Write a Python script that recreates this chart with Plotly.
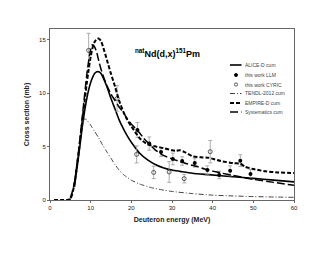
import plotly.graph_objects as go

# ---- data ----
alice_x = [6, 6.5, 7, 7.5, 8, 8.5, 9, 9.5, 10, 10.5, 11, 11.5, 12, 12.5, 13, 14, 15, 16, 17, 18, 19, 20, 22, 24, 26, 28, 30, 32, 35, 39, 45, 50, 55, 60]
alice_y = [1.2, 2.6, 4.0, 5.5, 7.0, 8.3, 9.4, 10.3, 11.0, 11.5, 11.85, 12.0, 12.0, 11.85, 11.5, 10.6, 9.5, 8.5, 7.5, 6.7, 6.0, 5.4, 4.4, 3.75, 3.3, 3.0, 2.8, 2.68, 2.5, 2.37, 2.18, 2.02, 1.86, 1.7]

tendl_x = [5, 5.5, 6, 6.5, 7, 7.5, 8, 8.5, 9, 10, 11, 12, 13, 14, 15, 16, 17, 18, 20, 22, 25, 28, 30, 35, 40, 45, 50, 55, 60]
tendl_y = [0.0, 0.6, 1.6, 3.0, 4.5, 6.0, 7.1, 7.6, 7.5, 7.0, 6.4, 5.8, 5.1, 4.5, 3.9, 3.3, 2.8, 2.4, 1.85, 1.5, 1.15, 0.92, 0.8, 0.6, 0.45, 0.38, 0.32, 0.28, 0.25]

empire_x = [1, 2, 3, 4, 5, 5.5, 6, 6.5, 7, 7.5, 8, 8.5, 9, 9.5, 10, 10.5, 11, 11.5, 12, 12.5, 13, 14, 15, 16, 17, 18, 19, 20, 22, 24, 26, 28, 30, 31, 32, 33, 35, 37, 39, 42, 45, 46.8, 48, 50, 53, 56, 60]
empire_y = [0, 0, 0, 0, 0.1, 0.6, 1.5, 2.8, 4.3, 5.9, 7.6, 9.2, 10.8, 12.2, 13.4, 14.3, 14.8, 15.05, 15.1, 14.9, 14.4, 13.1, 11.8, 10.6, 9.3, 8.3, 7.5, 6.9, 5.8, 5.2, 5.0, 4.85, 4.65, 4.6, 4.65, 4.5, 4.1, 4.0, 3.95, 3.65, 3.45, 3.4, 3.1, 2.9, 2.68, 2.58, 2.53]

syst_x = [5, 5.5, 6, 6.5, 7, 7.5, 8, 8.5, 9, 9.5, 10, 10.3, 10.7, 11, 11.5, 12, 12.5, 13, 14, 15, 16, 17, 18, 19, 20, 21, 22, 23, 24, 26, 28, 30, 32, 34, 36, 38, 40, 42, 45, 50, 55, 60]
syst_y = [0.2, 0.8, 1.6, 3.0, 4.5, 6.2, 8.0, 9.8, 11.6, 13.0, 14.1, 14.5, 14.5, 14.3, 13.8, 13.0, 12.3, 11.7, 10.7, 9.9, 9.3, 8.7, 8.2, 7.6, 7.1, 6.7, 6.3, 5.8, 5.4, 4.65, 4.15, 3.85, 3.6, 3.35, 3.15, 2.9, 2.7, 2.53, 2.3, 1.93, 1.65, 1.37]

llm_x = [21.5, 24.4, 27.3, 30.2, 32.5, 35.6, 38.7, 41.6, 44.3, 46.8, 49.3]
llm_y = [6.56, 5.28, 4.5, 3.84, 3.65, 3.47, 2.8, 2.35, 2.73, 3.68, 2.44]
llm_err = [0.7, 0.62, 0.42, 0.55, 0.4, 0.4, 0.4, 0.35, 0.47, 0.55, 0.4]

cyric_x = [9.5, 16.5, 21.3, 25.5, 29.3, 33.0, 39.4]
cyric_y = [14.0, 9.5, 4.27, 2.58, 2.62, 2.0, 4.52]
cyric_err = [1.6, 1.2, 0.8, 0.58, 0.97, 0.4, 1.05]

x_ticks = [0, 10, 20, 30, 40, 50, 60]
y_ticks = [0, 5, 10, 15]

legend_names = ["ALICE-D cum", "this work LLM", "this work CYRIC",
                "TENDL-2012 cum", "EMPIRE-D cum", "Systematics cum"]

FONT = "Liberation Sans"

# styles
alice_line = dict(color="black", width=1.6)
tendl_line = dict(color="#444444", width=1, dash="5px,2px,1px,2px")
empire_line = dict(color="black", width=2, dash="4px,2px")
syst_line = dict(color="black", width=1.5, dash="8px,3px")

fig = go.Figure()

fig.add_trace(go.Scatter(x=alice_x, y=alice_y, mode="lines", name=legend_names[0],
                         line=dict(**alice_line, shape="spline", smoothing=0.6)))
fig.add_trace(go.Scatter(x=llm_x, y=llm_y, mode="markers", name=legend_names[1],
                         marker=dict(symbol="circle", size=4, color="black"),
                         error_y=dict(type="data", array=llm_err, color="#9a9a9a", thickness=0.8, width=2)))
fig.add_trace(go.Scatter(x=cyric_x, y=cyric_y, mode="markers", name=legend_names[2],
                         marker=dict(symbol="circle-open", size=4, color="#333333", line=dict(width=0.8)),
                         error_y=dict(type="data", array=cyric_err, color="#9a9a9a", thickness=0.8, width=2)))
fig.add_trace(go.Scatter(x=tendl_x, y=tendl_y, mode="lines", name=legend_names[3],
                         line=dict(**tendl_line, shape="spline", smoothing=0.6)))
fig.add_trace(go.Scatter(x=empire_x, y=empire_y, mode="lines", name=legend_names[4],
                         line=dict(**empire_line, shape="spline", smoothing=0.6)))
fig.add_trace(go.Scatter(x=syst_x, y=syst_y, mode="lines", name=legend_names[5],
                         line=dict(**syst_line, shape="spline", smoothing=0.6)))

# ---- compact manual legend (layout only) ----
PW, PH = 244.0, 171.0
leg_x0 = (230 - 50) / PW
leg_x1 = (241.5 - 50) / PW
leg_xm = (236 - 50) / PW
leg_tx = (242.5 - 50) / PW
row_px = [65, 75, 84.5, 93.5, 103, 112]
styles = [("line", alice_line), ("dot", "black"), ("ring", "#333333"),
          ("line", tendl_line), ("line", empire_line), ("line", syst_line)]
shapes = []
annots = []
for name, rp, (kind, st) in zip(legend_names, row_px, styles):
    yp = (200 - rp) / PH
    if kind == "line":
        shapes.append(dict(type="line", xref="paper", yref="paper", x0=leg_x0, x1=leg_x1, y0=yp, y1=yp,
                           line=st))
    else:
        rx, ry = 1.6 / PW, 1.6 / PH
        shapes.append(dict(type="circle", xref="paper", yref="paper",
                           x0=leg_xm - rx, x1=leg_xm + rx, y0=yp - ry, y1=yp + ry,
                           fillcolor=st if kind == "dot" else "white",
                           line=dict(color=st, width=0.8)))
    annots.append(dict(text=name, x=leg_tx, y=yp, xref="paper", yref="paper", xanchor="left",
                       yanchor="middle", showarrow=False,
                       font=dict(family=FONT, size=5, color="#444444")))

annots.append(dict(text="<b><sup>nat</sup>Nd(d,x)<sup>151</sup>Pm</b>", x=0.48, y=0.905,
                   xref="paper", yref="paper", showarrow=False,
                   font=dict(family=FONT, size=9, color="black")))

fig.update_layout(
    width=322, height=247,
    margin=dict(l=42, r=36, t=21, b=55),
    paper_bgcolor="white", plot_bgcolor="white",
    font=dict(family=FONT, size=6, color="#222222"),
    showlegend=False,
    shapes=shapes, annotations=annots,
    xaxis=dict(range=[0, 60], tickvals=x_ticks, ticks="outside", ticklen=2, tickcolor="#666",
               showline=True, linecolor="#666666", linewidth=1, mirror=True, showgrid=False, zeroline=False,
               tickfont=dict(size=6),
               title=dict(text="<b>Deuteron energy (MeV)</b>", font=dict(size=7, color="#222"), standoff=6)),
    yaxis=dict(range=[0, 16], tickvals=y_ticks, ticks="outside", ticklen=2, tickcolor="#666",
               showline=True, linecolor="#666666", linewidth=1, mirror=True, showgrid=False, zeroline=False,
               tickfont=dict(size=6),
               title=dict(text="<b>Cross section (mb)</b>", font=dict(size=7, color="#222"), standoff=8)),
)

fig.write_html("out.html")
